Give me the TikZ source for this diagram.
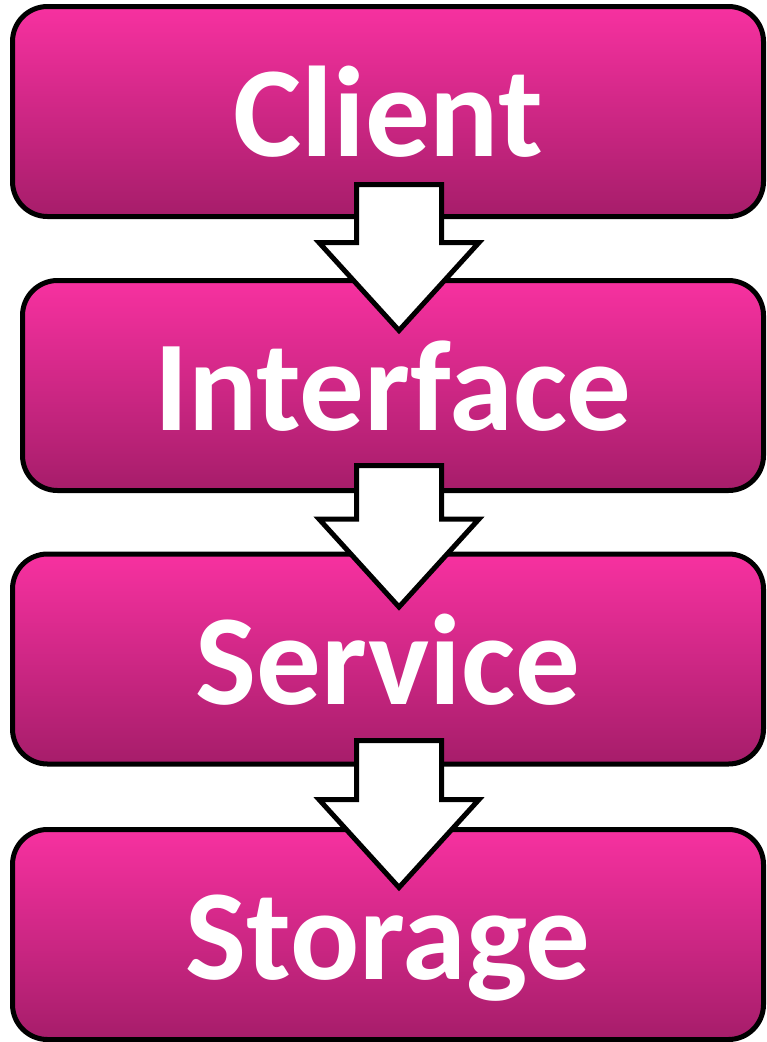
\documentclass[tikz,border=0pt]{standalone}
\usepackage{fontspec}
\setmainfont{Carlito}
\usetikzlibrary{calc}

\definecolor{boxtop}{RGB}{247,49,160}
\definecolor{boxbot}{RGB}{166,29,106}

\tikzset{
    layer/.style={draw=black, line width=5pt, rounded corners=35pt,
        top color=boxtop, bottom color=boxbot, text=white,
        font=\fontsize{129}{150}\selectfont\bfseries,
        inner sep=0pt, outer sep=0pt, text height=90pt, text depth=0pt,
        minimum height=210pt},
    blockarrow/.style={draw=black, line width=5pt, fill=white, line join=miter}
}

\begin{document}
\begin{tikzpicture}[x=1pt,y=-1pt]

\useasboundingbox (0,0) rectangle (767,1042);

% Layers
\node[layer, minimum width=751pt] (client) at (388,111.5) {Client};
\node[layer, minimum width=741pt] (interface) at (393,385.5) {Interface};
\node[layer, minimum width=751pt] (service) at (388,659) {Service};
\node[layer, minimum width=751pt] (storage) at (388,934.5) {Storage};

% Arrow axis
\coordinate (ax) at (399,0);

% Block arrows
\foreach \a/\b/\up/\down in {client/interface/32/50, interface/service/25/53, service/storage/23.5/58}
    \draw[blockarrow] let \p1=(\a.south -| ax), \p2=(\b.north -| ax) in
        (\x1-42.5pt,\y1+\up pt) -- (\x1+42.5pt,\y1+\up pt)
        -- (\x1+42.5pt,\y2-\down pt+88pt) -- (\x1+80pt,\y2-\down pt+88pt)
        -- (\x1,\y2-\down pt)
        -- (\x1-80pt,\y2-\down pt+88pt) -- (\x1-42.5pt,\y2-\down pt+88pt) -- cycle;

\end{tikzpicture}
\end{document}
